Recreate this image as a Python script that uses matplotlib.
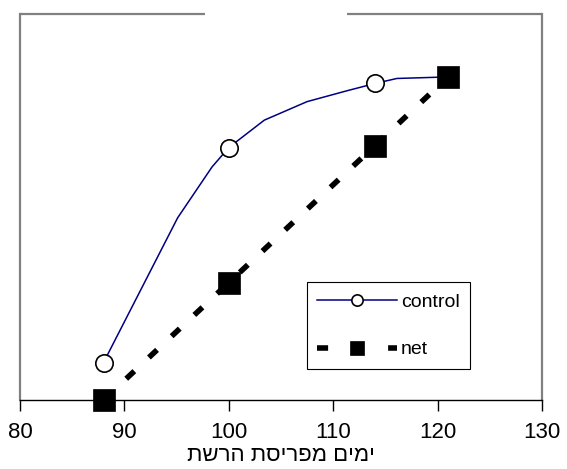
import matplotlib
matplotlib.use("Agg")
import matplotlib.pyplot as plt

plt.rcParams['font.family'] = ['Liberation Sans', 'DejaVu Sans']

control_x = [88, 95.1, 98.4, 100, 103.4, 107.5, 111.3, 114, 116.1, 121]
control_y = [9.7, 47.2, 60.4, 65.4, 72.5, 77.3, 80.1, 82.0, 83.3, 83.7]
control_marker_idx = [0, 3, 7, 9]

net_x = [88, 100, 114, 121]
net_y = [0.0, 30.4, 65.9, 83.7]

xticks = [80, 90, 100, 110, 120, 130]
xlabel = "ימים מפריסת הרשת"

fig = plt.figure(figsize=(5.67, 4.69), dpi=100)
ax = fig.add_axes([20/567, 1-400/469, 522/567, 386/469])

ax.plot(control_x, control_y, color='#000080', lw=1.1, marker='o',
        markevery=control_marker_idx, ms=12.5, mfc='white', mec='black',
        mew=1.2, label='control', zorder=3)
ax.plot(net_x, net_y, color='black', lw=4, linestyle=(0, (2, 3.6)),
        dash_capstyle='butt', marker='s', ms=16, mfc='black', mec='black',
        mew=0.5, label='net', zorder=4, clip_on=False)

ax.set_xlim(80, 130)
ax.set_ylim(0, 100)
ax.set_xticks(xticks)
ax.set_xticklabels([str(t) for t in xticks], fontsize=16)
ax.set_yticks([])
ax.tick_params(axis='x', direction='out', length=8, width=1, pad=8, color='black')

for s in ['left', 'right']:
    ax.spines[s].set_color('#808080')
    ax.spines[s].set_linewidth(1.6)
ax.spines['bottom'].set_color('black')
ax.spines['bottom'].set_linewidth(1.0)
ax.spines['top'].set_visible(False)
# top border with a gap in the middle (as in the reference)
for seg in ([0, 0.355], [0.627, 1.0]):
    ax.plot(seg, [1, 1], transform=ax.transAxes, color='#808080', lw=1.6,
            clip_on=False, solid_capstyle='butt', zorder=5)

ax.set_xlabel(xlabel[::-1], fontsize=16, labelpad=1)

leg = ax.legend(loc='lower left', bbox_to_anchor=(0.549, 0.080),
                borderaxespad=0, fontsize=14, handlelength=4.1,
                handletextpad=0.2, labelspacing=1.55, borderpad=0.55,
                markerscale=0.65,
                fancybox=False, framealpha=1, edgecolor='black')
leg.get_frame().set_linewidth(0.8)
leg.get_lines()[1].set_linestyle((0, (2, 4.4)))

fig.savefig('out.png', dpi=100)
